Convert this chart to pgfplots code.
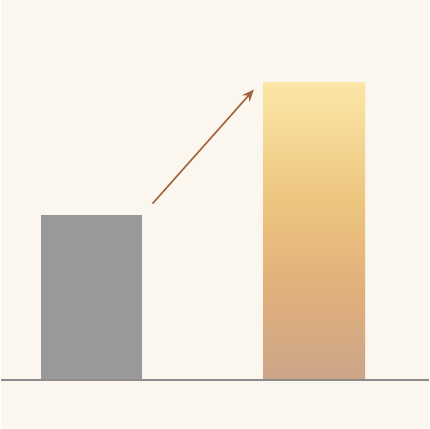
\documentclass[border=0pt]{standalone}
\usepackage{pgfplots}
\pgfplotsset{compat=1.18}
\usetikzlibrary{arrows.meta}
\definecolor{bg}{HTML}{FBF6EE}
\definecolor{barGray}{HTML}{999999}
\definecolor{baseGray}{HTML}{8C8C8C}
\definecolor{arrowBrown}{HTML}{A0643C}
\definecolor{g1}{HTML}{FBE6A6}
\definecolor{g2}{HTML}{EDC57E}
\definecolor{g3}{HTML}{E0AF7C}
\definecolor{g4}{HTML}{CCA588}
% the bar's bounding box maps onto 25bp..75bp of the shading
\pgfdeclareverticalshading{goldbar}{100bp}{%
  color(0bp)=(g4); color(25bp)=(g4); color(40bp)=(g3); color(55bp)=(g2);
  color(75bp)=(g1); color(100bp)=(g1)}
\begin{document}
\begin{tikzpicture}
  \fill[bg] (0,0) rectangle (430pt,430pt);
  \begin{axis}[
      at={(0,0)}, anchor=south west,
      scale only axis,
      width=430pt, height=430pt,
      xmin=-0.4068, xmax=1.5154,
      ymin=-16.0, ymax=127.8,
      hide axis,
      ybar, bar width=102pt, bar shift=0pt,
      clip=false
    ]
    \addplot[draw=none, fill=barGray] coordinates {(0,55.5)};
    \addplot[draw=none, shade, shading=goldbar] coordinates {(1,100)};
    \addplot[sharp plot, baseGray, line width=2pt] coordinates {(-0.4068,0) (1.5154,0)};
    \addplot[sharp plot, arrowBrown, line width=1.6pt,
      -{Stealth[length=12pt, width=10pt]}] coordinates {(0.274,59.4) (0.7287,97.7)};
  \end{axis}
\end{tikzpicture}
\end{document}
